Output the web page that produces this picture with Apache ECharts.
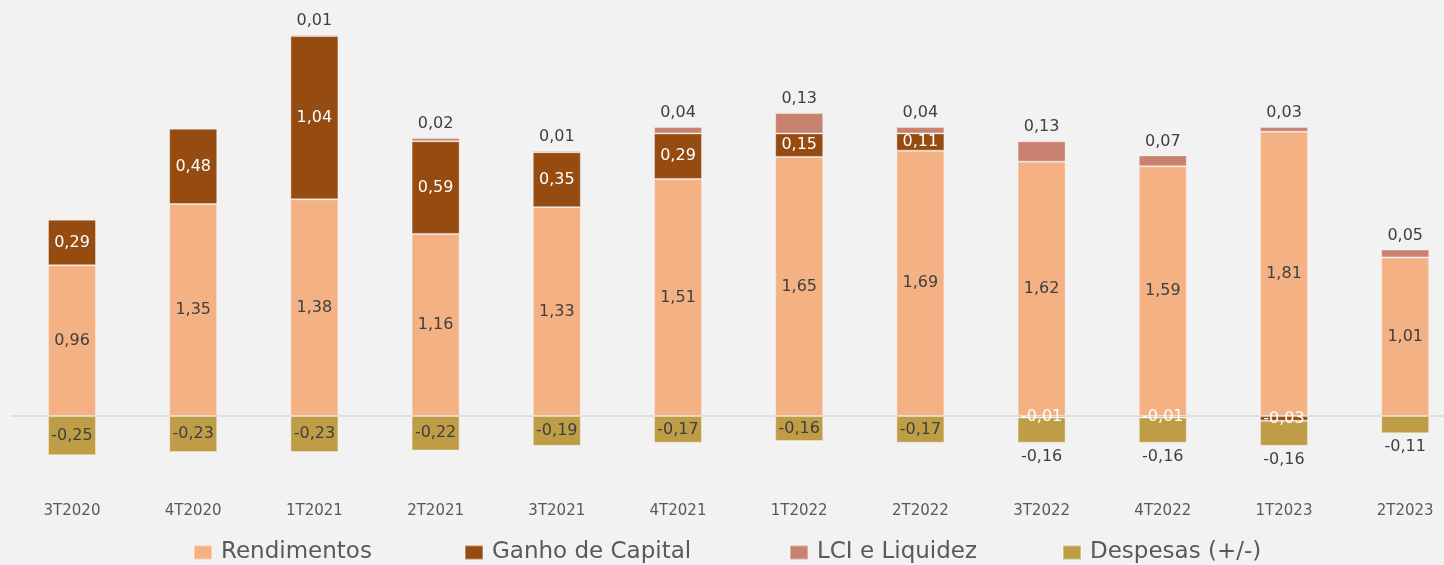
<!DOCTYPE html>
<html>
<head>
<meta charset="utf-8">
<script src="https://cdn.jsdelivr.net/npm/echarts@6/dist/echarts.min.js"></script>
<style>
html,body{margin:0;padding:0;background:#F2F2F2;overflow:hidden;width:1444px;height:565px;}
#c{width:1466px;height:565px;}
</style>
</head>
<body>
<div id="c"></div>
<script>
const categories = ['3T2020','4T2020','1T2021','2T2021','3T2021','4T2021','1T2022','2T2022','3T2022','4T2022','1T2023','2T2023'];
const rendimentos = [0.96,1.35,1.38,1.16,1.33,1.51,1.65,1.69,1.62,1.59,1.81,1.01];
const ganhoCapital = [0.29,0.48,1.04,0.59,0.35,0.29,0.15,0.11,-0.01,-0.01,-0.03,null];
const lciLiquidez = [null,null,0.01,0.02,0.01,0.04,0.13,0.04,0.13,0.07,0.03,0.05];
const despesas = [-0.25,-0.23,-0.23,-0.22,-0.19,-0.17,-0.16,-0.17,-0.16,-0.16,-0.16,-0.11];
const despesasLabelOutside = [8,9,10,11];

const FONT = 'DejaVu Sans';
const fmt = p => p.value == null ? '' : p.value.toFixed(2).replace('.', ',');
const colors = {
  r: '#F4B183', g: '#964B10', l: '#C8826F', d: '#BF9D47'
};

const chart = echarts.init(document.getElementById('c'), null, {renderer: 'canvas'});
const barCommon = {
  type: 'bar', stack: 'total', barWidth: 48,
  itemStyle: {borderColor: 'rgba(255,255,255,0.35)', borderWidth: 1}
};
const legendCommon = {
  top: 541, itemWidth: 18, itemHeight: 14, icon: 'rect', padding: 0, itemGap: 0,
  textStyle: {fontFamily: FONT, fontSize: 23, color: '#595959', padding: [0, 0, 0, 4]}
};

chart.setOption({
  animation: false,
  backgroundColor: '#F2F2F2',
  grid: {left: 11.4, width: 1454.4, top: 23.5, bottom: 70.5, containLabel: false},
  legend: [
    Object.assign({left: 193, data: ['Rendimentos']}, legendCommon),
    Object.assign({left: 464, data: ['Ganho de Capital']}, legendCommon),
    Object.assign({left: 789, data: ['LCI e Liquidez']}, legendCommon),
    Object.assign({left: 1062, data: ['Despesas (+/-)']}, legendCommon)
  ],
  xAxis: {
    type: 'category', data: categories,
    axisLine: {show: false, onZero: false}, axisTick: {show: false},
    axisLabel: {fontFamily: FONT, fontSize: 15, color: '#595959', margin: 9}
  },
  yAxis: {type: 'value', show: false, min: -0.5, max: 2.5, splitLine: {show: false}},
  series: [
    Object.assign({}, barCommon, {
      name: 'Rendimentos', data: rendimentos,
      itemStyle: Object.assign({color: colors.r}, barCommon.itemStyle),
      label: {show: true, position: 'inside', formatter: fmt, fontFamily: FONT, fontSize: 16, color: '#404040'},
      markLine: {
        silent: true, symbol: 'none', z: 1,
        label: {show: false},
        lineStyle: {color: '#D9D9D9', width: 1.5, type: 'solid'},
        data: [{yAxis: 0}]
      }
    }),
    Object.assign({}, barCommon, {
      name: 'Ganho de Capital', data: ganhoCapital,
      itemStyle: Object.assign({color: colors.g}, barCommon.itemStyle),
      label: {show: true, position: 'inside', formatter: fmt, fontFamily: FONT, fontSize: 16, color: '#FFFFFF'}
    }),
    Object.assign({}, barCommon, {
      name: 'LCI e Liquidez', data: lciLiquidez,
      itemStyle: Object.assign({color: colors.l}, barCommon.itemStyle),
      label: {show: true, position: 'top', distance: 6, formatter: fmt, fontFamily: FONT, fontSize: 16, color: '#404040'}
    }),
    Object.assign({}, barCommon, {
      name: 'Despesas (+/-)',
      data: despesas.map((v, i) => despesasLabelOutside.includes(i)
        ? {value: v, label: {position: 'bottom', distance: 6}}
        : v),
      itemStyle: Object.assign({color: colors.d}, barCommon.itemStyle),
      label: {show: true, position: 'inside', formatter: fmt, fontFamily: FONT, fontSize: 16, color: '#404040'}
    })
  ]
});
</script>
</body>
</html>
